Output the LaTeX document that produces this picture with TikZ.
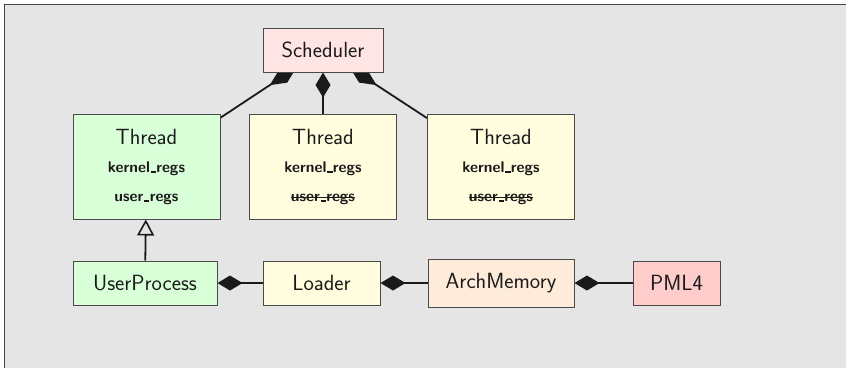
\documentclass[tikz,border=0pt]{standalone}
\usepackage{fontspec}
\usetikzlibrary{arrows.meta}
\definecolor{bg}{HTML}{E5E5E5}
\definecolor{frame}{HTML}{444444}
\definecolor{edge}{HTML}{4A4A4A}
\definecolor{pinkfill}{HTML}{FFE4E4}
\definecolor{greenfill}{HTML}{D9FFD9}
\definecolor{yellowfill}{HTML}{FFFDDD}
\definecolor{peachfill}{HTML}{FFEBD9}
\definecolor{redfill}{HTML}{FFCCCC}
\definecolor{ink}{HTML}{1A1A1A}
\pgfdeclarelayer{back}
\pgfsetlayers{back,main}
\tikzset{
  box/.style={draw=edge, line width=1pt, inner sep=0pt, text=ink,
    font=\sffamily\fontsize{22}{26}\selectfont},
  threadbox/.style={box, minimum width=147pt, minimum height=105pt},
  txt/.style={anchor=base, inner sep=0pt, text=ink, font=\sffamily\fontsize{22}{26}\selectfont},
  reg/.style={anchor=base, inner sep=0pt, text=ink, font=\sffamily\bfseries\fontsize{15.5}{18}\selectfont},
  comp/.style={draw=ink, line width=1.8pt, {Diamond[length=25pt,width=15pt]}-},
  compd/.style={draw=ink, line width=1.8pt, {Diamond[length=32pt,width=15pt]}-, shorten <=-9pt},
  inherit/.style={draw=ink, line width=1.8pt, -{Triangle[open,length=16pt,width=17pt,line width=1.6pt]}},
}
\newcommand{\usc}{\kern.06em\vbox{\hrule width.33em height .09em}\kern.02em}
\newcommand{\strk}[1]{\setbox0\hbox{#1}\rlap{\rule[0.24em]{\wd0}{0.08em}}\box0}
\begin{document}
\begin{tikzpicture}[x=1pt,y=-1pt]
\useasboundingbox (0,0) rectangle (846,367);

\node[box, fill=pinkfill, minimum width=120pt, minimum height=44pt] (sched) at (323,50) {Scheduler};

\node[threadbox, fill=greenfill] (t1) at (146.5,166.5) {};
\node[threadbox, fill=yellowfill] (t2) at (323,166.5) {};
\node[threadbox, fill=yellowfill] (t3) at (501,166.5) {};

\node[txt] (t1name) at (146.5,144) {Thread};
\node[reg] (t1k) at (146.5,172.7) {kernel\usc regs};
\node[reg] (t1u) at (146.5,201.7) {user\usc regs};
\node[txt] (t2name) at (323,144) {Thread};
\node[reg] (t2k) at (323,172.7) {kernel\usc regs};
\node[reg] (t2u) at (323,201.7) {\strk{user\usc regs}};
\node[txt] (t3name) at (501,144) {Thread};
\node[reg] (t3k) at (501,172.7) {kernel\usc regs};
\node[reg] (t3u) at (501,201.7) {\strk{user\usc regs}};

\node[box, fill=greenfill, minimum width=144pt, minimum height=44pt] (up) at (145,283) {UserProcess};
\node[box, fill=yellowfill, minimum width=117pt, minimum height=44pt] (loader) at (321.5,283) {Loader};
\node[box, fill=peachfill, minimum width=146pt, minimum height=48pt] (arch) at (501,283) {ArchMemory};
\node[box, fill=redfill, minimum width=87pt, minimum height=44pt] (pml) at (676.5,283) {PML4};

\begin{pgfonlayer}{back}
\fill[white] (0,0) rectangle (846,367);
\draw[frame, fill=bg, line width=1pt] (4,4) rectangle (860,380);
\draw[compd] (sched) -- (t1);
\draw[comp] (sched) -- (t2);
\draw[compd] (sched) -- (t3);
\draw[inherit] (up) -- (t1);
\draw[comp] (up) -- (loader);
\draw[comp] (loader) -- (arch);
\draw[comp] (arch) -- (pml);
\end{pgfonlayer}
\end{tikzpicture}
\end{document}
